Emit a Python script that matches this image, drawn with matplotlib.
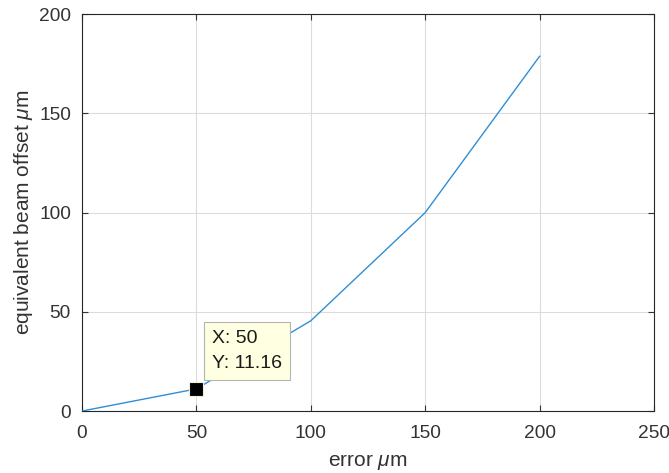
import numpy as np
import matplotlib
matplotlib.use("Agg")
from matplotlib import pyplot as plt

# Data.
error_um = [0, 50, 100, 150, 200]
beam_offset_um = [0, 11.16, 45.5, 100, 178.8]
x_ticks = [0, 50, 100, 150, 200, 250]
y_ticks = [0, 50, 100, 150, 200]
tip_x, tip_y = 50, 11.16

plt.rcParams["font.family"] = ["Liberation Sans", "DejaVu Sans"]
plt.rcParams["mathtext.fontset"] = "custom"
plt.rcParams["mathtext.it"] = "Liberation Sans:italic"
plt.rcParams["mathtext.rm"] = "Liberation Sans"

text_color = "#333333"

fig = plt.figure(figsize=(6.69, 4.73), dpi=100)
ax = fig.add_axes([0.1226, 0.131, 0.855, 0.839])

ax.plot(error_um, beam_offset_um, color="#2f8fd6", linewidth=1.0, zorder=3)

# Data tip marker and box.
ax.plot([tip_x], [tip_y], marker="s", markersize=9.5, color="black",
        markeredgecolor="#f0f0d0", markeredgewidth=0.8, zorder=5)
ax.annotate(
    f"X: {tip_x}\nY: {tip_y:.2f}",
    xy=(tip_x, tip_y),
    xytext=(11, 12),
    textcoords="offset points",
    ha="left",
    va="bottom",
    fontsize=14,
    linespacing=1.6,
    color="#1a1a1a",
    bbox=dict(boxstyle="square,pad=0.42", facecolor="#ffffe1",
              edgecolor="#b4b4b4", linewidth=0.8),
    zorder=6,
)

ax.set_xlim(0, 250)
ax.set_ylim(0, 200)
ax.set_xticks(x_ticks)
ax.set_yticks(y_ticks)
ax.grid(True, color="#dcdcdc", linewidth=0.8)
ax.set_axisbelow(True)

ax.tick_params(direction="in", length=4, width=0.8, colors=text_color,
               labelsize=13.8, top=True, right=True)
ax.tick_params(axis="x", pad=10)
ax.tick_params(axis="y", pad=8)
for spine in ax.spines.values():
    spine.set_color("#262626")
    spine.set_linewidth(0.8)

ax.set_xlabel(r"error $\mu$m", fontsize=15, color=text_color, labelpad=7)
ax.set_ylabel(r"equivalent beam offset $\mu$m", fontsize=15,
              color=text_color, labelpad=3)

fig.savefig("out.png", dpi=100)
